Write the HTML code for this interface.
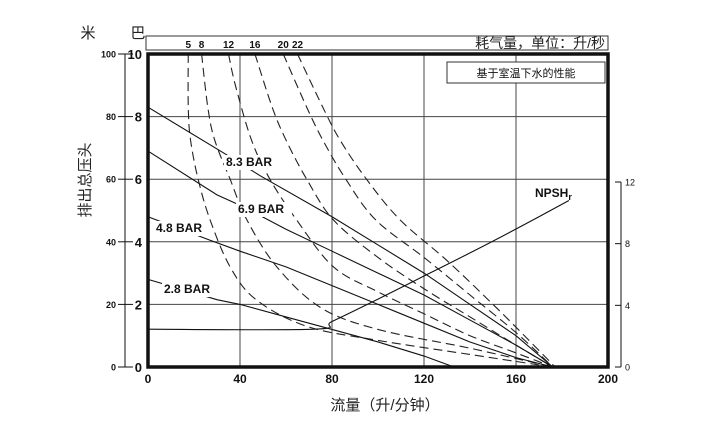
<!DOCTYPE html>
<html><head><meta charset="utf-8"><style>
body{margin:0;background:#fff;}
svg{display:block;font-family:"Liberation Sans","Noto Sans CJK SC",sans-serif;}
</style></head><body>
<svg id="c" width="719" height="427" viewBox="0 0 719 427"></svg>
<script>
const xTicks=[0,40,80,120,160,200];
const barTicks=[0,2,4,6,8,10];
const meterTicks=[0,20,40,60,80,100];
const npshTicks=[0,4,8,12];
const airLabels=["5","8","12","16","20","22"];
const p83=[[0,8.3],[36,6.7],[49,6.1],[80,4.8],[100,3.9],[120,3.0],[140,2.0],[160,1.0],[176,0]];
const p69=[[0,6.9],[30,5.5],[42,5.1],[60,4.4],[80,3.7],[100,3.0],[120,2.3],[140,1.5],[160,0.7],[176,0]];
const p48=[[0,4.8],[27,4.05],[40,3.7],[60,3.2],[80,2.6],[100,2.0],[120,1.4],[140,0.8],[160,0.3],[176,0]];
const p28=[[0,2.8],[30,2.15],[40,2.0],[60,1.6],[80,1.2],[100,0.8],[120,0.35],[133,0]];
const a5=[[17.5,10],[17.5,8.3],[18.5,7.25],[21.8,6],[27,4.7],[35.7,3.2],[47,2.15],[69,1.3],[100,0.85],[140,0.4],[176,0]];
const a8=[[23.3,10],[26,8.3],[29,7.25],[35.7,6],[43,4.7],[56,3.2],[75,1.9],[100,1.2],[140,0.6],[176,0]];
const a12=[[35,10],[38,9],[45,7.25],[53,6],[64.6,4.7],[80.6,3.2],[100,2.4],[120,1.7],[140,1.0],[160,0.45],[176,0]];
const a16=[[46.5,10],[54,8.3],[60,7.25],[69,6],[80.6,4.7],[100,3.5],[120,2.5],[140,1.6],[160,0.7],[176,0]];
const a20=[[58.8,10],[69,8.3],[76,7.25],[86,6],[99,4.7],[120,3.5],[140,2.3],[160,1.1],[176,0]];
const a22=[[65,10],[76,8.3],[83.5,7.25],[95,6],[109.6,4.7],[130,3.4],[150,2.0],[165,0.9],[177,0]];
const npshFlow=[0,72,80,100,120,140,160,183];
const npshVal=[2.45,2.45,2.95,4.4,5.9,7.4,8.95,10.8];

const NS="http://www.w3.org/2000/svg",svg=document.getElementById('c');
const X0=148,X1=608,Y0=367,Y1=54;
const xs=v=>X0+(X1-X0)*v/200, ys=v=>Y0-(Y0-Y1)*v/10, yn=v=>Y0-(Y0-182)*v/12, ym=v=>Y0-(Y0-Y1)*v/100;
function el(t,a,name,txt){const e=document.createElementNS(NS,t);for(const k in a)e.setAttribute(k,a[k]);


if(txt!==undefined)e.textContent=txt;svg.appendChild(e);return e;}
function path(pts){let d="M"+pts[0][0]+","+pts[0][1];for(let i=0;i<pts.length-1;i++){const p0=pts[Math.max(i-1,0)],p1=pts[i],p2=pts[i+1],p3=pts[Math.min(i+2,pts.length-1)];
d+=" C"+(p1[0]+(p2[0]-p0[0])/6)+","+(p1[1]+(p2[1]-p0[1])/6)+" "+(p2[0]-(p3[0]-p1[0])/6)+","+(p2[1]-(p3[1]-p1[1])/6)+" "+p2[0]+","+p2[1];}return d;}
// grid
xTicks.slice(1,-1).forEach(v=>el('line',{x1:xs(v),x2:xs(v),y1:Y1,y2:Y0,stroke:'#444','stroke-width':1},'grid-v-'+v));
barTicks.slice(1,-1).forEach(v=>el('line',{x1:X0,x2:X1,y1:ys(v),y2:ys(v),stroke:'#444','stroke-width':1},'grid-h-'+v));
// air curves
[a5,a8,a12,a16,a20,a22].forEach((s,i)=>el('path',{d:path(s.map(p=>[xs(p[0]),ys(p[1])])),fill:'none',stroke:'#222','stroke-width':1.1,'stroke-dasharray':'9,5'},'air-curve-'+airLabels[i]));
// pressure curves
[[p83,'8.3'],[p69,'6.9'],[p48,'4.8'],[p28,'2.8']].forEach(([s,n])=>el('polyline',{points:s.map(p=>xs(p[0])+','+ys(p[1])).join(' '),fill:'none',stroke:'#111','stroke-width':1.1},'pressure-line-'+n));
// npsh
el('path',{d:path(npshFlow.map((f,i)=>[xs(f),yn(npshVal[i])])),fill:'none',stroke:'#111','stroke-width':1.1},'npsh-line');
// labels
[['8.3 BAR',226,166],['6.9 BAR',238,213],['4.8 BAR',156,232],['2.8 BAR',164,293]].forEach(([t,x,y])=>{
el('rect',{x:x-2,y:y-11,width:56,height:15,fill:'#fff'},'label-bg');
el('text',{x:x,y:y,'font-size':12,'font-weight':'bold',fill:'#111'},'pressure-label',t);});
const nt=el('text',{x:535,y:197,'font-size':12,'font-weight':'bold',fill:'#111'},'npsh-label','NPSH');
const sub=document.createElementNS(NS,'tspan');sub.setAttribute('font-size','9');sub.setAttribute('dy','3');sub.textContent='r';nt.appendChild(sub);
// frame
el('rect',{x:X0,y:Y1,width:X1-X0,height:Y0-Y1,fill:'none',stroke:'#111','stroke-width':3.5},'plot-frame');
// x ticks
xTicks.forEach(v=>el('text',{x:xs(v),y:383,'font-size':12,'font-weight':'bold','text-anchor':'middle',fill:'#111'},'x-tick-'+v,v));
barTicks.forEach(v=>el('text',{x:142,y:ys(v)+5,'font-size':13,'font-weight':'bold','text-anchor':'end',fill:'#111'},'bar-tick-'+v,v));
// meter axis
el('line',{x1:125,x2:125,y1:Y1,y2:Y0,stroke:'#111'},'meter-axis');
meterTicks.forEach(v=>{el('line',{x1:118,x2:133,y1:ym(v),y2:ym(v),stroke:'#111'},'meter-tick');
el('text',{x:116,y:ym(v)+3.5,'font-size':9,'font-weight':'bold','text-anchor':'end',fill:'#111'},'meter-label-'+v,v);});
// npsh axis
el('line',{x1:621,x2:621,y1:182,y2:Y0,stroke:'#111'},'npsh-axis');
npshTicks.forEach(v=>{el('line',{x1:615,x2:621,y1:yn(v),y2:yn(v),stroke:'#111'},'npsh-tick');
el('text',{x:625,y:yn(v)+3.5,'font-size':9,'fill':'#111'},'npsh-label-'+v,v);});
// top air box
el('rect',{x:146,y:36,width:462,height:14,fill:'#fff',stroke:'#333'},'air-header-box');
airLabels.forEach((t,i)=>el('text',{x:xs(a5.length&&[a5,a8,a12,a16,a20,a22][i][0][0]),y:48,'font-size':10,'font-weight':'bold','text-anchor':'middle',fill:'#111'},'air-label-'+t,t));
el('text',{x:605,y:48,'font-size':14,'text-anchor':'end',fill:'#222'},'air-header-title','耗气量，单位：升/秒');
el('rect',{x:447,y:62,width:158,height:21,fill:'#fff',stroke:'#333'},'legend-box');
el('text',{x:526,y:77,'font-size':11,'text-anchor':'middle',fill:'#111'},'legend-text','基于室温下水的性能');
el('text',{x:88,y:38,'font-size':15,'text-anchor':'middle',fill:'#222'},'meter-unit','米');
el('text',{x:138,y:38,'font-size':15,'text-anchor':'middle',fill:'#222'},'bar-unit','巴');
el('text',{x:90,y:180,'font-size':15,'text-anchor':'middle',fill:'#222',transform:'rotate(-90 90 180)'},'y-axis-title','排出总压头');
el('text',{x:385,y:410,'font-size':15,'text-anchor':'middle',fill:'#222'},'x-axis-title','流量（升/分钟）');
</script>
</body></html>
